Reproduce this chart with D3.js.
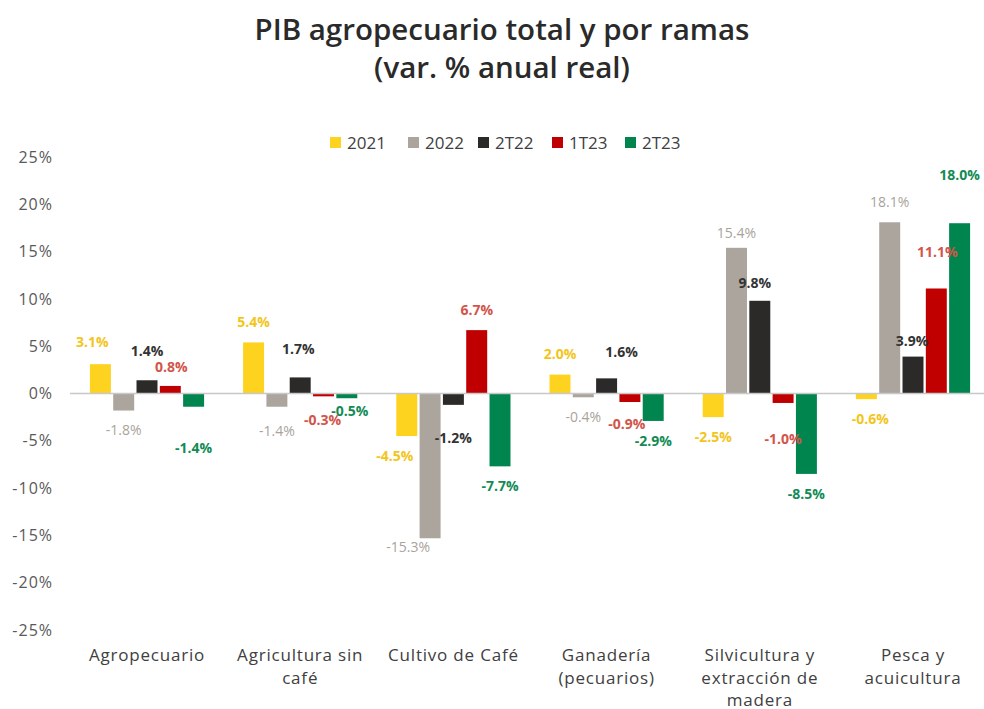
<!DOCTYPE html>
<html>
<head>
<meta charset="utf-8">
<script src="https://cdn.jsdelivr.net/npm/d3@7"></script>
<style>
  body { margin: 0; background: #fff; }
  svg { font-family: "Open Sans", "Noto Sans", sans-serif; }
</style>
</head>
<body>
<div id="chart"></div>
<script>
// categories (line breaks as in the original axis)
const categories = [
  "Agropecuario",
  "Agricultura sin|café",
  "Cultivo de Café",
  "Ganadería|(pecuarios)",
  "Silvicultura y|extracción de|madera",
  "Pesca y|acuicultura"
];
const seriesNames = ["2021", "2022", "2T22", "1T23", "2T23"];

// values per series, % annual real variation
const v2021 = [3.1, 5.4, -4.5, 2.0, -2.5, -0.6];
const v2022 = [-1.8, -1.4, -15.3, -0.4, 15.4, 18.1];
const v2T22 = [1.4, 1.7, -1.2, 1.6, 9.8, 3.9];
const v1T23 = [0.8, -0.3, 6.7, -0.9, -1.0, 11.1];
const v2T23 = [-1.4, -0.5, -7.7, -2.9, -8.5, 18.0];

const yTicks = [25, 20, 15, 10, 5, 0, -5, -10, -15, -20, -25];

const seriesValues = [v2021, v2022, v2T22, v1T23, v2T23];
const barColors = ["#FDD31F", "#ABA59E", "#2B2A29", "#C00000", "#00854F"];
const labelColors = ["#F3C51A", "#A9A39C", "#333333", "#D2544A", "#138A55"];
const labelWeights = ["bold", "normal", "bold", "bold", "bold"];

// manual label nudges (moved by hand in the source chart) [dx, dy] by "cat-series"
const nudges = {
  "0-0": [-8, -2], "0-2": [0, -9], "0-3": [1, 1], "0-4": [0, 21],
  "1-1": [0, 4], "1-2": [-2, -8], "1-3": [-1, 4], "1-4": [3, -7],
  "2-0": [-12, 0], "2-1": [-22, -11], "2-2": [0, 13],
  "3-2": [15, -6], "3-3": [-3, 2],
  "4-1": [0, 5], "4-2": [-5, 2], "4-3": [0, 16],
  "5-0": [4, 0], "5-2": [-1, 4], "5-3": [1, -16], "5-4": [0, -28]
};

const W = 984, H = 709;
const svg = d3.select("#chart").append("svg")
  .attr("width", W).attr("height", H);

// title
svg.append("text").attr("x", 502).attr("y", 40)
  .attr("text-anchor", "middle").attr("font-size", 29.5).attr("font-weight", 600)
  .attr("fill", "#2a2a2a")
  .text("PIB agropecuario total y por ramas");
svg.append("text").attr("x", 502).attr("y", 78)
  .attr("text-anchor", "middle").attr("font-size", 29.5).attr("font-weight", 600)
  .attr("fill", "#2a2a2a")
  .text("(var. % anual real)");

// scales
const x0 = d3.scaleBand().domain(d3.range(categories.length))
  .range([70.4, 989.6]).padding(0);
const groupW = 114.2;
const x1 = d3.scaleBand().domain(d3.range(seriesNames.length))
  .range([0, groupW]).paddingInner(0.1).paddingOuter(0);
const y = d3.scaleLinear().domain([-25, 25]).range([630, 157]);

// y axis
const yAxis = svg.append("g").attr("transform", "translate(53,0)")
  .call(d3.axisLeft(y).tickValues(yTicks).tickSize(0).tickPadding(0)
    .tickFormat(d => d + "%"));
yAxis.select(".domain").remove();
yAxis.selectAll("text").attr("font-size", 16).attr("fill", "#595959")
  .attr("letter-spacing", 1)
  .attr("font-family", "\"Open Sans\", sans-serif");

// bars
const groups = svg.append("g").selectAll("g")
  .data(categories).join("g")
  .attr("transform", (d, i) => `translate(${x0(i) + (x0.bandwidth() - groupW) / 2},0)`);

groups.selectAll("rect")
  .data((d, i) => seriesValues.map((s, j) => ({ cat: i, ser: j, v: s[i] })))
  .join("rect")
  .attr("x", d => x1(d.ser))
  .attr("width", x1.bandwidth())
  .attr("y", d => y(Math.max(0, d.v)))
  .attr("height", d => Math.abs(y(d.v) - y(0)))
  .attr("fill", d => barColors[d.ser]);

// zero line
svg.append("line").attr("x1", 70).attr("x2", 984)
  .attr("y1", y(0)).attr("y2", y(0))
  .attr("stroke", "#C8C8C8").attr("stroke-width", 1.5);

// data labels
groups.selectAll("text")
  .data((d, i) => seriesValues.map((s, j) => ({ cat: i, ser: j, v: s[i] })))
  .join("text")
  .attr("x", d => x1(d.ser) + x1.bandwidth() / 2 + (nudges[d.cat + "-" + d.ser] || [0, 0])[0])
  .attr("y", d => y(d.v) + (d.v >= 0 ? -20 : 20) + (nudges[d.cat + "-" + d.ser] || [0, 0])[1])
  .attr("dy", "0.35em")
  .attr("text-anchor", "middle")
  .attr("font-size", 14)
  .attr("font-weight", d => labelWeights[d.ser])
  .attr("fill", d => labelColors[d.ser])
  .text(d => d.v.toFixed(1) + "%");

// category labels
const xAxis = svg.append("g").attr("transform", "translate(0,645)")
  .call(d3.axisBottom(x0).tickSize(0).tickFormat(""));
xAxis.select(".domain").remove();
xAxis.selectAll(".tick").each(function (d) {
  const t = d3.select(this).append("text")
    .attr("text-anchor", "middle").attr("font-size", 17).attr("fill", "#404040")
    .attr("letter-spacing", 0.8)
    .attr("font-family", "\"Open Sans\", sans-serif");
  categories[d].split("|").forEach((line, k) => {
    t.append("tspan").attr("x", 0).attr("y", 16 + k * 22.5).text(line);
  });
});

// legend
const legendX = [330, 408, 478, 552, 625];
const legend = svg.append("g").selectAll("g").data(seriesNames).join("g")
  .attr("transform", (d, i) => `translate(${legendX[i]},137)`);
legend.append("rect").attr("width", 11).attr("height", 11)
  .attr("fill", (d, i) => barColors[i]);
legend.append("text").attr("x", 17).attr("y", 6).attr("dy", "0.35em")
  .attr("font-size", 17).attr("fill", "#404040").text(d => d);
</script>
</body>
</html>
